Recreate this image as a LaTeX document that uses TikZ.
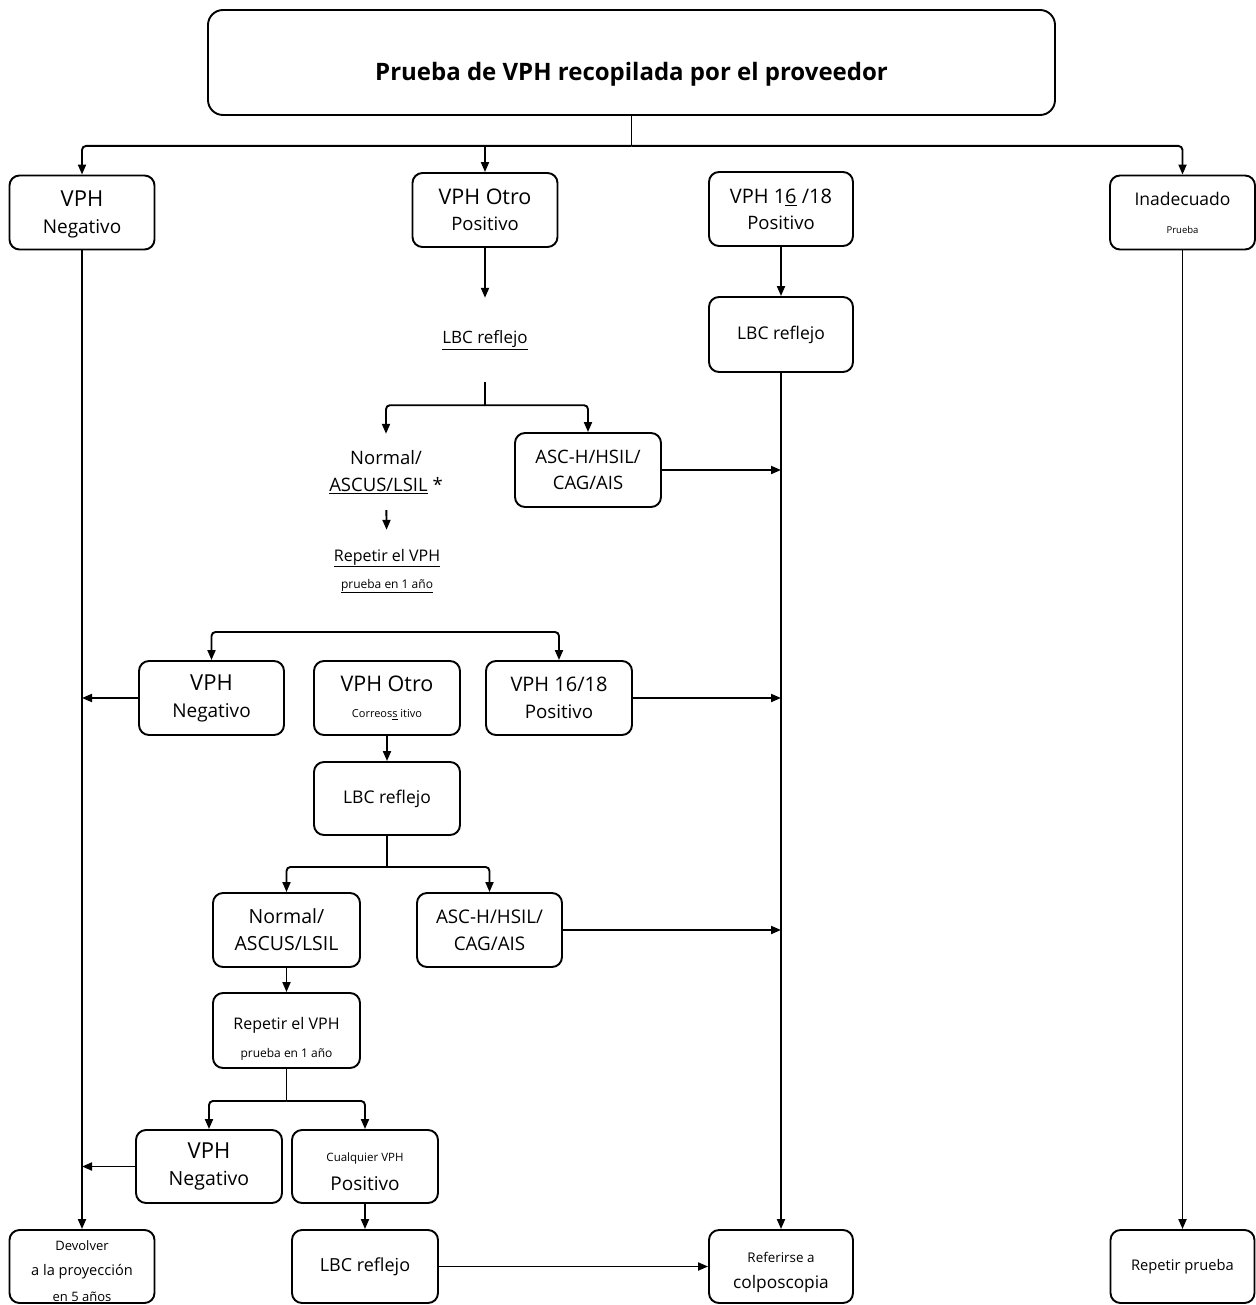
\documentclass[tikz,border=0pt]{standalone}
\usepackage{fontspec}
\setmainfont{Open Sans}
\usetikzlibrary{arrows.meta, positioning}

\newcommand{\fsz}[1]{\fontsize{#1}{#1}\selectfont}
\newcommand{\up}[1]{\rule{0pt}{#1pt}}

\begin{document}
\begin{tikzpicture}[x=1pt, y=-1pt,
    box/.style={draw, rounded corners=10pt, line width=1.9pt, align=center,
                inner sep=0pt, minimum width=145pt, minimum height=74pt, lsk=26},
    txt/.style={align=center, inner sep=0pt, lsk=27},
    lsk/.style={font=\fontsize{10}{#1}\selectfont},
    conn/.style={line width=1.9pt},
    arr/.style={line width=1.9pt, -{Triangle[length=10pt,width=8pt]}}]

    \fill[white] (0,0) rectangle (1255,1305);
    \useasboundingbox (0,0) rectangle (1255,1305);

    % Top
    \node[box, rounded corners=15pt, minimum width=847pt, minimum height=105pt,
          font=\fontsize{24}{28}\selectfont\bfseries] (top) at (631.5,62.5)
          {\up{41}Prueba de VPH recopilada por el proveedor};

    % First tier
    \node[box, lsk=27] (neg1) at (82,212.5) {\fsz{22}\up{20}VPH\\\fsz{19}Negativo};
    \node[box] (otro1) at (485,210) {\fsz{21.5}VPH Otro\\\fsz{18.5}Positivo};
    \node[box, minimum width=144pt] (hpv1) at (781,209)
          {\fsz{20}VPH 1\underline{6} /18\\\fsz{18.5}Positivo};
    \node[box, lsk=28] (inad) at (1182.5,212.5) {\fsz{17.5}Inadecuado\\\fsz{9.5}Prueba};

    % Reflex LBC
    \node[txt, minimum height=84pt] (lbcA) at (485,340) {\fsz{17}\underline{LBC reflejo}};
    \node[box, minimum width=144pt, minimum height=75pt] (lbcB) at (781,334.5)
          {\fsz{17.5}LBC reflejo};

    \node[txt, minimum height=76pt] (normA) at (386,472)
          {\fsz{18.5}Normal/\\\fsz{18.5}\underline{ASCUS/LSIL} *};
    \node[box, minimum width=146pt] (ascA) at (588,470)
          {\fsz{18.5}ASC-H/HSIL/\\\fsz{18.5}CAG/AIS};
    \node[txt, minimum height=82pt] (repA) at (387,571)
          {\fsz{16}\underline{Repetir el VPH}\\\fsz{12}\underline{prueba en 1 año}};

    % Second tier
    \node[box, lsk=27] (neg2) at (211.5,698) {\fsz{22}VPH\\\fsz{19}Negativo};
    \node[box, minimum width=146pt] (otro2) at (387,698)
          {\fsz{21.5}VPH Otro\\\fsz{11}Correos\underline{s} itivo};
    \node[box, minimum width=146pt, lsk=27] (hpv2) at (559,698)
          {\fsz{20}VPH 16/18\\\fsz{18.7}Positivo};
    \node[box, minimum width=146pt, minimum height=73pt] (lbc2) at (387,798.5)
          {\fsz{17.5}LBC reflejo};

    \node[box, minimum width=147pt, lsk=27] (norm2) at (286.5,930)
          {\fsz{19.5}Normal/\\\fsz{19.5}ASCUS/LSIL};
    \node[box, lsk=27] (asc2) at (489.5,930) {\fsz{18.8}ASC-H/HSIL/\\\fsz{18.8}CAG/AIS};
    \node[box, minimum width=147pt, minimum height=75pt, lsk=28] (rep2) at (286.5,1030.5)
          {\fsz{16}\up{28}Repetir el VPH\\\fsz{12}prueba en 1 año};

    % Third tier
    \node[box, minimum width=146pt, minimum height=73pt, lsk=27] (neg3) at (209,1166.5)
          {\fsz{22}VPH\\\fsz{19.5}Negativo};
    \node[box, minimum width=146pt, minimum height=73pt, lsk=29] (cual) at (365,1166.5)
          {\fsz{11.5}\up{20}Cualquier VPH\\\fsz{19}Positivo};
    \node[box, minimum width=146pt, minimum height=73pt] (lbc3) at (365,1266.5)
          {\fsz{18}LBC reflejo};

    % Outcomes
    \node[box, minimum height=73pt, lsk=25.5] (devolver) at (82,1266.5)
          {\fsz{13}\up{19}Devolver\\\fsz{14.6}a la proyección\\\fsz{13}en 5 años};
    \node[box, minimum width=144pt, minimum height=73pt, lsk=26] (refer) at (781,1266.5)
          {\fsz{13.4}\up{21.5}Referirse a\\\fsz{17.3}colposcopia};
    \node[box, minimum width=144pt, minimum height=73pt] (reprueba) at (1182.5,1266.5)
          {\fsz{14.7}Repetir prueba};

    % Connectors
    \draw[conn] (top.south) -- ++(0,30) coordinate (s0);
    \draw[arr, rounded corners=4pt] (s0) -| (neg1.north);
    \draw[arr, rounded corners=4pt] (s0) -| (inad.north);
    \draw[arr] (otro1.north |- s0) -- (otro1.north);

    \draw[arr] (otro1) -- (lbcA);
    \draw[conn] (lbcA.south) -- ++(0,23) coordinate (s1);
    \draw[arr, rounded corners=4pt] (s1) -| (normA.north);
    \draw[arr, rounded corners=4pt] (s1) -| (ascA.north);
    \draw[arr] (normA) -- (repA);

    \draw[arr] (hpv1) -- (lbcB);
    \draw[arr] (lbcB) -- (refer);
    \draw[arr] (ascA.east) -- (lbcB.south |- ascA.east);

    \draw[arr] (neg1) -- (devolver);
    \draw[arr] (inad) -- (reprueba);

    \coordinate (s2) at (387,632);
    \draw[arr, rounded corners=4pt] (s2) -| (neg2.north);
    \draw[arr, rounded corners=4pt] (s2) -| (hpv2.north);
    \draw[arr] (neg2.west) -- (neg1.south |- neg2.west);
    \draw[arr] (hpv2.east) -- (lbcB.south |- hpv2.east);
    \draw[arr] (otro2) -- (lbc2);

    \draw[conn] (lbc2.south) -- ++(0,31) coordinate (s3);
    \draw[arr, rounded corners=4pt] (s3) -| (norm2.north);
    \draw[arr, rounded corners=4pt] (s3) -| (asc2.north);
    \draw[arr] (asc2.east) -- (lbcB.south |- asc2.east);
    \draw[arr] (norm2) -- (rep2);

    \draw[conn] (rep2.south) -- ++(0,32) coordinate (s4);
    \draw[arr, rounded corners=4pt] (s4) -| (neg3.north);
    \draw[arr, rounded corners=4pt] (s4) -| (cual.north);
    \draw[arr] (neg3.west) -- (neg1.south |- neg3.west);
    \draw[arr] (cual) -- (lbc3);
    \draw[arr] (lbc3) -- (refer);
\end{tikzpicture}
\end{document}
